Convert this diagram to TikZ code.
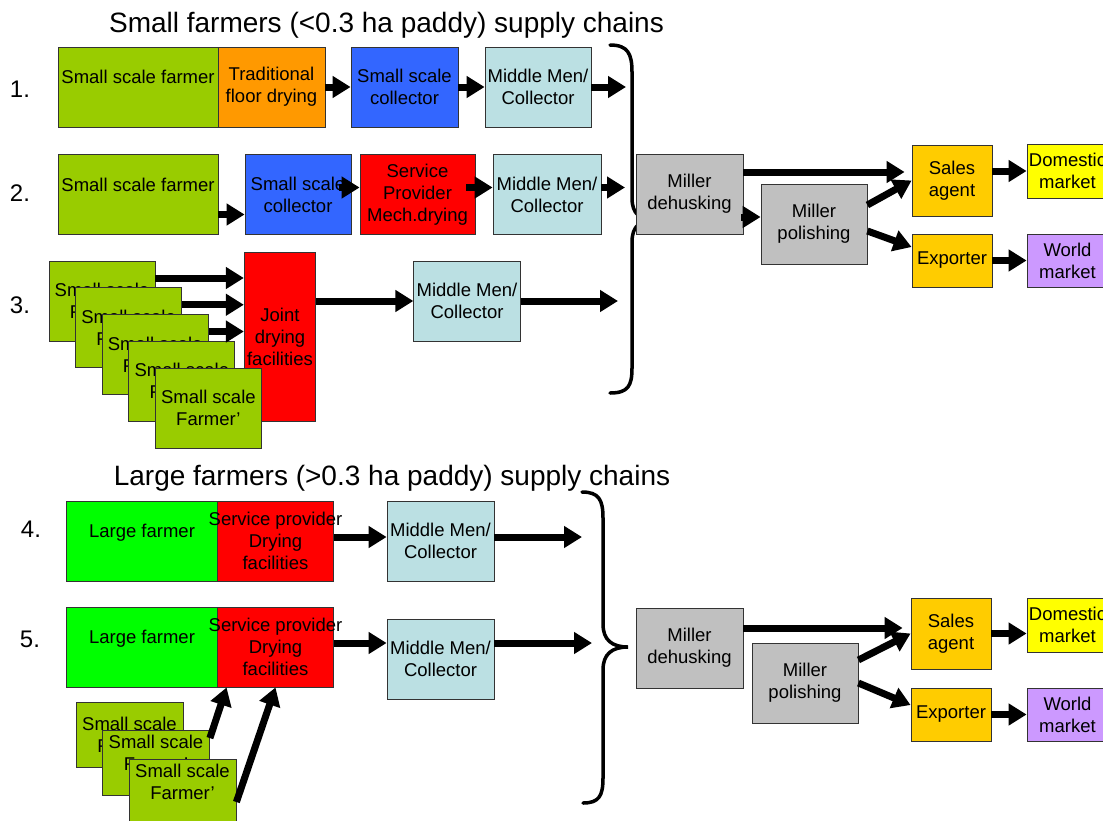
\documentclass[tikz,border=0pt]{standalone}
\usepackage{fontspec}
\setmainfont{Liberation Sans}
\usepackage{tikz}
\usetikzlibrary{arrows.meta}

\definecolor{farmgreen}{HTML}{99CC00}
\definecolor{largegreen}{HTML}{00FF00}
\definecolor{dryorange}{HTML}{FF9900}
\definecolor{collblue}{HTML}{3366FF}
\definecolor{midblue}{HTML}{BBE0E3}
\definecolor{millgrey}{HTML}{C0C0C0}
\definecolor{agentgold}{HTML}{FFCC00}
\definecolor{domyellow}{HTML}{FFFF00}
\definecolor{worldlilac}{HTML}{CC99FF}

\newcommand{\boxfont}{\fontsize{18.5}{22}\selectfont}
\newcommand{\titlefont}{\fontsize{28}{33}\selectfont}
\newcommand{\numfont}{\fontsize{24}{28}\selectfont}

\begin{document}
\begin{tikzpicture}[x=1pt, y=-1pt,
        box/.style={draw=black!80, line width=0.8pt, inner sep=1pt, align=center, font=\boxfont},
        sz/.style 2 args={minimum width=#1pt, minimum height=#2pt},
        textup/.style={text depth=20pt},
        flow/.style={line width=7pt, -{Triangle[length=18pt,width=21pt]}},
        brace/.style={line width=3.5pt, line cap=round},
        title/.style={font=\titlefont, anchor=base},
        num/.style={font=\numfont}]
    \path[use as bounding box, fill=white] (0,0) rectangle (1103,820);

    \node[title] (t1) at (386.5,32) {Small farmers (<0.3 ha paddy) supply chains};
    \node[title] (t2) at (392,485) {Large farmers (>0.3 ha paddy) supply chains};

    \node[num] (n1) at (20,89) {1.};
    \node[num] (n2) at (20,193) {2.};
    \node[num] (n3) at (20,305) {3.};
    \node[num] (n4) at (31,529) {4.};
    \node[num] (n5) at (30,639) {5.};

    % chain 1
    \node[box, sz={160}{80}, fill=farmgreen, textup] (sf1) at (138,87) {Small scale farmer};
    \node[box, sz={107}{80}, fill=dryorange] (dry1) at (271.5,87) {Traditional\\floor drying};
    \node[box, sz={107}{80}, fill=collblue] (col1) at (404.5,87) {Small scale\\collector};
    \node[box, sz={106}{80}, fill=midblue] (mm1) at (538,87) {Middle Men/\\Collector};
    \coordinate (e1) at (626,87);
    \draw[flow] (dry1) -- (col1);
    \draw[flow] (col1) -- (mm1);
    \draw[flow] (mm1) -- (e1);

    % chain 2
    \node[box, sz={160}{80}, fill=farmgreen, textup] (sf2) at (138,194.5) {Small scale farmer};
    \node[box, sz={106}{80}, fill=collblue] (col2) at (298,194.5) {Small scale\\collector};
    \node[box, sz={115}{80}, fill=red] (sp2) at (417.5,194.5) {Service\\Provider\\Mech.drying};
    \node[box, sz={108}{80}, fill=midblue] (mm2) at (547,194.5) {Middle Men/\\Collector};
    \coordinate (e2) at (625,187.5);
    \draw[flow] ([yshift=-20pt]sf2.east) -- ([yshift=-20pt]col2.west);
    \draw[flow] ([xshift=-12pt,yshift=7pt]col2.east) -- ([yshift=7pt]sp2.west);
    \draw[flow] ([xshift=-9pt,yshift=7pt]sp2.east) -- ([yshift=7pt]mm2.west);
    \draw[flow] ([yshift=7pt]mm2.east) -- (e2);

    % chain 3
    \node[box, sz={71.5}{169}, fill=red] (joint) at (280,336.5) {Joint\\drying\\facilities};
    \foreach \i in {0,...,4}
        \node[box, sz={106}{80}, fill=farmgreen] (sfs\i) at (102+26.6*\i, 301+26.75*\i) {Small scale\\Farmer’};
    \foreach \i in {0,1,2}
        \draw[flow] ([yshift=23pt]sfs\i.east) -- ([yshift=23pt]sfs\i.east -| joint.west);
    \node[box, sz={106.5}{80}, fill=midblue] (mm3) at (467,301) {Middle Men/\\Collector};
    \coordinate (e3) at (618,301);
    \draw[flow] (joint.east |- mm3.west) -- (mm3.west);
    \draw[flow] (mm3) -- (e3);

    \draw[brace] (610,45) .. controls (628,45) and (632,54) .. (632,72) -- (632,198)
        .. controls (632,214) and (640,220) .. (655,220)
        .. controls (640,220) and (632,226) .. (632,242) -- (632,368)
        .. controls (632,386) and (628,393) .. (610,393);

    \node[box, sz={107}{80}, fill=millgrey] (deh1) at (689.5,194) {Miller\\dehusking};
    \node[box, sz={106}{80}, fill=millgrey] (pol1) at (814,224) {Miller\\polishing};
    \node[box, sz={80}{71}, fill=agentgold] (sal1) at (952,180.5) {Sales\\agent};
    \node[box, sz={80}{53}, fill=agentgold] (exp1) at (952,260.5) {Exporter};
    \node[box, sz={81}{54}, fill=domyellow] (dom1) at (1067.5,171) {Domestic\\market};
    \node[box, sz={81}{53}, fill=worldlilac] (wor1) at (1067.5,260.5) {World\\market};
    \draw[flow] ([yshift=22pt]deh1.east) -- ([xshift=-7pt,yshift=8.5pt]sal1.west);
    \draw[flow] ([xshift=-2pt,yshift=-23pt]deh1.east) -- ([yshift=7pt]pol1.west);
    \draw[flow] ([yshift=19pt]pol1.east) -- (sal1.west);
    \draw[flow] ([yshift=-7pt]pol1.east) -- ([yshift=13.5pt]exp1.west);
    \draw[flow] (sal1.east |- dom1.west) -- (dom1.west);
    \draw[flow] (exp1) -- (wor1);

    % chain 4
    \node[box, sz={151}{80}, fill=largegreen, textup] (lf4) at (142,541) {Large farmer};
    \node[box, sz={116}{80}, fill=red] (sp4) at (275.5,541) {\makebox[0pt]{Service provider}\\Drying\\facilities};
    \node[box, sz={107}{80}, fill=midblue] (mm4) at (440.5,541) {Middle Men/\\Collector};
    \coordinate (e4) at (582,537);
    \draw[flow] ([yshift=4pt]sp4.east) -- ([yshift=4pt]mm4.west);
    \draw[flow] ([yshift=4pt]mm4.east) -- (e4);

    % chain 5
    \node[box, sz={151}{80}, fill=largegreen, textup] (lf5) at (142,647) {Large farmer};
    \node[box, sz={116}{80}, fill=red] (sp5) at (275.5,647) {\makebox[0pt]{Service provider}\\Drying\\facilities};
    \node[box, sz={107}{80}, fill=midblue] (mm5) at (440.5,659) {Middle Men/\\Collector};
    \coordinate (e5) at (592,643);
    \draw[flow] ([yshift=4pt]sp5.east) -- ([yshift=16pt]mm5.west);
    \draw[flow] ([yshift=16pt]mm5.east) -- (e5);
    \node[box, sz={107}{65}, fill=farmgreen] (sfl0) at (129.5,734.5) {Small scale\\Farmer’};
    \foreach \i in {1,2}
        \node[box, sz={107}{65}, fill=farmgreen, textup] (sfl\i) at (129.5+26.5*\i, 734.5+28.5*\i) {Small scale\\Farmer’};
    \draw[flow] ([yshift=-8pt]sfl1.north east) -- ([xshift=9.5pt]sp5.south west);
    \draw[flow] ([yshift=-10.5pt]sfl2.east) -- (sp5.south);

    \draw[brace] (582,492) .. controls (599,492) and (603,500) .. (603,518) -- (603,624)
        .. controls (603,640) and (612,647) .. (628,647)
        .. controls (612,647) and (603,654) .. (603,670) -- (603,778)
        .. controls (603,796) and (599,803) .. (583,803);

    \node[box, sz={107}{80}, fill=millgrey] (deh2) at (689.5,648) {Miller\\dehusking};
    \node[box, sz={106}{80}, fill=millgrey] (pol2) at (805,683) {Miller\\polishing};
    \node[box, sz={80}{71}, fill=agentgold] (sal2) at (951,633.5) {Sales\\agent};
    \node[box, sz={80}{53}, fill=agentgold] (exp2) at (951,714.5) {Exporter};
    \node[box, sz={81}{54}, fill=domyellow] (dom2) at (1067.5,625) {Domestic\\market};
    \node[box, sz={81}{53}, fill=worldlilac] (wor2) at (1067.5,714.5) {World\\market};
    \draw[flow] ([yshift=20pt]deh2.east) -- ([xshift=-8pt,yshift=5.5pt]sal2.west);
    \draw[flow] ([yshift=23pt]pol2.east) -- (sal2.west);
    \draw[flow] (pol2.east) -- ([yshift=9.5pt]exp2.west);
    \draw[flow] (sal2.east) -- (sal2.east -| dom2.west);
    \draw[flow] (exp2) -- (wor2);
\end{tikzpicture}
\end{document}
